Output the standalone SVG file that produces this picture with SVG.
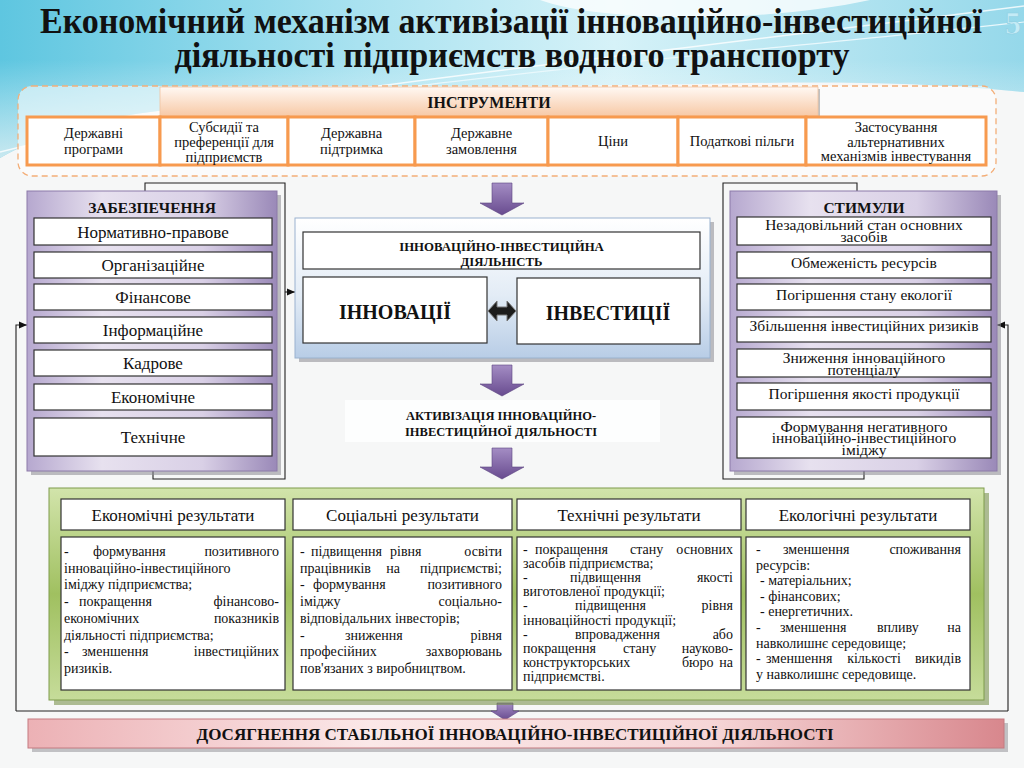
<svg xmlns="http://www.w3.org/2000/svg" width="1024" height="768" viewBox="0 0 1024 768">
<defs>
<linearGradient id="sky" x1="0" y1="0" x2="1" y2="0">
<stop offset="0" stop-color="#5ec6e0"/><stop offset="0.35" stop-color="#a9e2f0"/><stop offset="0.6" stop-color="#d6f2f8"/><stop offset="1" stop-color="#95d8ea"/>
</linearGradient>
<linearGradient id="skyfade" x1="0" y1="0" x2="0" y2="1">
<stop offset="0" stop-color="#ffffff" stop-opacity="0"/><stop offset="1" stop-color="#f6f7f7" stop-opacity="0.7"/>
</linearGradient>
<linearGradient id="hdr" x1="0" y1="0" x2="0" y2="1">
<stop offset="0" stop-color="#fff8f3"/><stop offset="1" stop-color="#f7c9a6"/>
</linearGradient>
<linearGradient id="purp" x1="0" y1="0" x2="1" y2="0">
<stop offset="0" stop-color="#b6a8cf"/><stop offset="0.3" stop-color="#e7e1ef"/><stop offset="0.7" stop-color="#d9d0e6"/><stop offset="1" stop-color="#9a89b8"/>
</linearGradient>
<linearGradient id="blue" x1="0" y1="0" x2="0" y2="1">
<stop offset="0" stop-color="#ffffff"/><stop offset="0.55" stop-color="#e3ecf6"/><stop offset="1" stop-color="#b8cde6"/>
</linearGradient>
<linearGradient id="green" x1="0" y1="0" x2="0" y2="1">
<stop offset="0" stop-color="#d2e4ab"/><stop offset="0.5" stop-color="#a0c060"/><stop offset="1" stop-color="#c6dc9a"/>
</linearGradient>
<linearGradient id="pink" x1="0" y1="0" x2="1" y2="0">
<stop offset="0" stop-color="#ecb1b5"/><stop offset="0.35" stop-color="#fbe8e8"/><stop offset="0.7" stop-color="#f6d6d7"/><stop offset="1" stop-color="#d8878d"/>
</linearGradient>
<linearGradient id="parr" x1="0" y1="0" x2="0" y2="1">
<stop offset="0" stop-color="#a48dc4"/><stop offset="1" stop-color="#684b8f"/>
</linearGradient>
<marker id="ah" viewBox="0 0 10 10" refX="10" refY="5" markerWidth="9" markerHeight="8" markerUnits="userSpaceOnUse" orient="auto">
<path d="M0,0.5 L10,5 L0,9.5 Z" fill="#111"/>
</marker>
<style>
text{font-family:"Liberation Serif","DejaVu Serif","Times New Roman",serif;fill:#111}
.t{font-size:14.5px;text-anchor:middle}
.b{font-weight:bold}
.m{text-anchor:middle}
.r{text-anchor:end}
.i17{font-size:17px;text-anchor:middle}
.i15{font-size:15.5px;text-anchor:middle}
.bx{fill:#fff;stroke:#333;stroke-width:1.2}
.cell{fill:#fff;stroke:#f79a4f;stroke-width:3}
.rt{font-size:14px}
.rh{font-size:17px;text-anchor:middle}
.ln{fill:none;stroke:#222;stroke-width:1.1}
.arr{fill:url(#parr);stroke:#5d4582;stroke-width:0.6}
.sh{fill:#8b8b92;opacity:0.55}
</style>
</defs>

<!-- background -->
<rect width="1024" height="768" fill="#f6f7f7"/>
<path d="M0,0 H1024 V92 C 900,80 800,82 700,84 C 500,86 300,92 150,112 C 90,120 40,135 0,158 Z" fill="url(#sky)"/>
<path d="M0,60 H1024 V92 C 900,80 800,82 700,84 C 500,86 300,92 150,112 C 90,120 40,135 0,158 Z" fill="url(#skyfade)"/>
<path d="M540,0 C 600,22 760,24 870,0 Z" fill="#ffffff" opacity="0.75"/>
<path d="M0,152 C 200,100 500,72 1024,6" fill="none" stroke="#ffffff" stroke-width="1.5" opacity="0.8"/>
<path d="M40,150 C 300,85 700,58 1024,22" fill="none" stroke="#e9f8fc" stroke-width="1.2"/>

<!-- title -->
<g id="title">
<text x="511" y="33" class="m b" font-size="35" textLength="942" lengthAdjust="spacingAndGlyphs">Економічний механізм активізації інноваційно-інвестиційної</text>
<text x="512" y="67" class="m b" font-size="35" textLength="675" lengthAdjust="spacingAndGlyphs">діяльності підприємств водного транспорту</text>
<text x="1013" y="34" class="m b" font-size="32" style="fill:#c4ebf6;stroke:#8fd0e3;stroke-width:0.6">5</text>
</g>

<!-- connectors -->
<g id="connectors">
<path class="ln" d="M145,191 V183 H285 V479 H153 V471"/>
<path class="ln" d="M285,292 H295" marker-end="url(#ah)"/>
<path class="ln" d="M857,191 V183 H723 V479 H864 V471"/>
<path class="ln" d="M16,711 H1008"/>
<path class="ln" d="M16,711 V325 H27" marker-end="url(#ah)"/>
<path class="ln" d="M1008,711 V325 H997" marker-end="url(#ah)"/>
<path class="arr" d="M492,183 H512 V203 H524 L502,215 L480,203 H492 Z"/>
<path class="arr" d="M492,365 H512 V384 H524 L502,396 L480,384 H492 Z"/>
<path class="arr" d="M492,448 H512 V467 H524 L502,479 L480,467 H492 Z"/>
<path class="arr" d="M497,703 H513 V711 H519 L505,720 L491,711 H497 Z"/>
</g>

<!-- instruments -->
<g id="instruments">
<rect x="18" y="86" width="978" height="90" rx="14" fill="#ffffff" fill-opacity="0.55" stroke="#f3ae78" stroke-width="1.3" stroke-dasharray="6,4"/>
<rect x="162" y="89" width="658" height="29" fill="#9a9a9a" opacity="0.6"/>
<rect x="160" y="87" width="658" height="29" fill="url(#hdr)" stroke="#f0c3a0" stroke-width="0.8"/>
<text x="489" y="108" class="m b" font-size="16">ІНСТРУМЕНТИ</text>
</g>
<g id="inst-1"><rect class="cell" x="27" y="117" width="133" height="48"/><text class="t" x="93.5" y="138">Державні</text><text class="t" x="93.5" y="154">програми</text></g>
<g id="inst-2"><rect class="cell" x="160" y="117" width="128" height="48"/><text class="t" x="224" y="132">Субсидії та</text><text class="t" x="224" y="147">преференції для</text><text class="t" x="224" y="161.5">підприємств</text></g>
<g id="inst-3"><rect class="cell" x="288" y="117" width="127" height="48"/><text class="t" x="351.5" y="138">Державна</text><text class="t" x="351.5" y="154">підтримка</text></g>
<g id="inst-4"><rect class="cell" x="415" y="117" width="133" height="48"/><text class="t" x="481.5" y="138">Державне</text><text class="t" x="481.5" y="154">замовлення</text></g>
<g id="inst-5"><rect class="cell" x="548" y="117" width="130" height="48"/><text class="t" x="613" y="146">Ціни</text></g>
<g id="inst-6"><rect class="cell" x="678" y="117" width="128" height="48"/><text class="t" x="742" y="146">Податкові пільги</text></g>
<g id="inst-7"><rect class="cell" x="806" y="117" width="180" height="48"/><text class="t" x="896" y="132">Застосування</text><text class="t" x="896" y="146.5">альтернативних</text><text class="t" x="896" y="161">механізмів інвестування</text></g>

<!-- left panel -->
<g id="zabezpechennia">
<rect class="sh" x="31" y="195" width="250" height="280"/>
<rect x="27" y="191" width="250" height="280" fill="url(#purp)" stroke="#8c7aa9" stroke-width="1"/>
<text x="152" y="212.5" class="m b" font-size="15.5">ЗАБЕЗПЕЧЕННЯ</text>
<rect class="bx" x="34" y="218" width="238" height="27"/><text class="i17" x="153" y="237.5">Нормативно-правове</text>
<rect class="bx" x="34" y="252" width="238" height="26"/><text class="i17" x="153" y="271">Організаційне</text>
<rect class="bx" x="34" y="284" width="238" height="26"/><text class="i17" x="153" y="303">Фінансове</text>
<rect class="bx" x="34" y="317" width="238" height="26"/><text class="i17" x="153" y="336">Інформаційне</text>
<rect class="bx" x="34" y="350" width="238" height="26"/><text class="i17" x="153" y="369">Кадрове</text>
<rect class="bx" x="34" y="384" width="238" height="26"/><text class="i17" x="153" y="403">Економічне</text>
<rect class="bx" x="34" y="418" width="238" height="38"/><text class="i17" x="153" y="443">Технічне</text>
</g>

<!-- center -->
<g id="activity">
<rect class="sh" x="299" y="222" width="415" height="140"/>
<rect x="295" y="218" width="415" height="140" fill="url(#blue)" stroke="#9ab2cf" stroke-width="1"/>
<rect class="bx" x="303" y="232" width="397" height="37"/>
<text x="501.5" y="250.5" class="m b" font-size="12.8">ІННОВАЦІЙНО-ІНВЕСТИЦІЙНА</text>
<text x="501.5" y="266" class="m b" font-size="12.8">ДІЯЛЬНІСТЬ</text>
</g>
<g id="innovations"><rect class="bx" x="303" y="277" width="184" height="66"/><text x="395" y="319" class="m b" font-size="20">ІННОВАЦІЇ</text></g>
<g id="investments"><rect class="bx" x="517" y="278" width="183" height="66"/><text x="608" y="320" class="m b" font-size="20">ІНВЕСТИЦІЇ</text></g>
<g id="double-arrow"><path d="M488,311 L497,301 V307 H507 V301 L516,311 L507,321 V315 H497 V321 Z" fill="#1c1c1c" stroke="#777" stroke-width="1"/></g>
<g id="activation">
<rect x="345" y="400" width="315" height="42" fill="#ffffff" opacity="0.8"/>
<text x="501" y="419.5" class="m b" font-size="12.5">АКТИВІЗАЦІЯ ІННОВАЦІЙНО-</text>
<text x="501" y="435.5" class="m b" font-size="12.5">ІНВЕСТИЦІЙНОЇ ДІЯЛЬНОСТІ</text>
</g>

<!-- right panel -->
<g id="stymuly">
<rect class="sh" x="734" y="195" width="267" height="280"/>
<rect x="730" y="191" width="267" height="280" fill="url(#purp)" stroke="#8c7aa9" stroke-width="1"/>
<text x="864" y="212.5" class="m b" font-size="15.5">СТИМУЛИ</text>
<rect class="bx" x="737" y="217" width="254" height="28"/><text class="i15" x="864" y="230">Незадовільний стан основних</text><text class="i15" x="864" y="242">засобів</text>
<rect class="bx" x="737" y="252" width="254" height="26"/><text class="i15" x="864" y="267.5">Обмеженість ресурсів</text>
<rect class="bx" x="737" y="284" width="254" height="26"/><text class="i15" x="864" y="299.5">Погіршення стану екології</text>
<rect class="bx" x="737" y="317" width="254" height="25"/><text class="i15" x="864" y="330.5">Збільшення інвестиційних ризиків</text>
<rect class="bx" x="737" y="349" width="254" height="28"/><text class="i15" x="864" y="362.5">Зниження інноваційного</text><text class="i15" x="864" y="374.5">потенціалу</text>
<rect class="bx" x="737" y="383" width="254" height="27"/><text class="i15" x="864" y="398.5">Погіршення якості продукції</text>
<rect class="bx" x="737" y="417" width="254" height="41"/><text class="i15" x="864" y="431.5">Формування негативного</text><text class="i15" x="864" y="443">інноваційно-інвестиційного</text><text class="i15" x="864" y="454.5">іміджу</text>
</g>

<!-- results -->
<g id="results">
<rect x="54" y="493" width="935" height="212" fill="#6f8a40" opacity="0.55"/>
<rect x="49" y="488" width="935" height="212" fill="url(#green)" stroke="#7f9c4d" stroke-width="1"/>
</g>
<g id="res-economic">
<rect class="bx" x="61" y="499" width="224" height="31"/><text class="rh" x="173" y="521">Економічні результати</text>
<rect class="bx" x="61" y="537" width="224" height="153"/>
<text class="rt" y="556"><tspan x="64">-</tspan><tspan x="93">формування</tspan></text><text class="rt r" x="279" y="556">позитивного</text>
<text class="rt" x="64" y="572.7">інноваційно-інвестиційного</text>
<text class="rt" x="64" y="589.4">іміджу підприємства;</text>
<text class="rt" y="606.1"><tspan x="64">-</tspan><tspan x="79">покращення</tspan></text><text class="rt r" x="279" y="606.1">фінансово-</text>
<text class="rt" x="64" y="622.8">економічних</text><text class="rt r" x="279" y="622.8">показників</text>
<text class="rt" x="64" y="639.5">діяльності підприємства;</text>
<text class="rt" y="656.2"><tspan x="64">-</tspan><tspan x="82">зменшення</tspan></text><text class="rt r" x="279" y="656.2">інвестиційних</text>
<text class="rt" x="64" y="672.9">ризиків.</text>
</g>
<g id="res-social">
<rect class="bx" x="293" y="499" width="219" height="31"/><text class="rh" x="402.5" y="521">Соціальні результати</text>
<rect class="bx" x="293" y="537" width="219" height="153"/>
<text class="rt" y="556"><tspan x="300">-</tspan><tspan x="311">підвищення</tspan><tspan x="390">рівня</tspan></text><text class="rt r" x="502" y="556">освіти</text>
<text class="rt" y="572.7"><tspan x="300">працівників</tspan></text><text class="rt m" x="393" y="572.7">на</text><text class="rt r" x="502" y="572.7">підприємстві;</text>
<text class="rt" y="589.4"><tspan x="300">-</tspan><tspan x="313">формування</tspan></text><text class="rt r" x="502" y="589.4">позитивного</text>
<text class="rt" x="300" y="606.1">іміджу</text><text class="rt r" x="502" y="606.1">соціально-</text>
<text class="rt" x="300" y="622.8">відповідальних інвесторів;</text>
<text class="rt" y="639.5"><tspan x="300">-</tspan><tspan x="345">зниження</tspan></text><text class="rt r" x="502" y="639.5">рівня</text>
<text class="rt" x="300" y="656.2">професійних</text><text class="rt r" x="502" y="656.2">захворювань</text>
<text class="rt" x="300" y="672.9">пов'язаних з виробництвом.</text>
</g>
<g id="res-technical">
<rect class="bx" x="517" y="499" width="224" height="31"/><text class="rh" x="629" y="521">Технічні результати</text>
<rect class="bx" x="517" y="537" width="224" height="153"/>
<text class="rt" y="554"><tspan x="523">-</tspan><tspan x="535">покращення</tspan><tspan x="630">стану</tspan></text><text class="rt r" x="733" y="554">основних</text>
<text class="rt" x="523" y="568.1">засобів підприємства;</text>
<text class="rt" y="582.2"><tspan x="523">-</tspan><tspan x="570">підвищення</tspan></text><text class="rt r" x="733" y="582.2">якості</text>
<text class="rt" x="523" y="596.3">виготовленої продукції;</text>
<text class="rt" y="610.4"><tspan x="523">-</tspan><tspan x="575">підвищення</tspan></text><text class="rt r" x="733" y="610.4">рівня</text>
<text class="rt" x="523" y="624.5">інноваційності продукції;</text>
<text class="rt" y="638.6"><tspan x="523">-</tspan><tspan x="575">впровадження</tspan></text><text class="rt r" x="733" y="638.6">або</text>
<text class="rt" y="652.7"><tspan x="523">покращення</tspan><tspan x="623">стану</tspan></text><text class="rt r" x="733" y="652.7">науково-</text>
<text class="rt" y="666.8"><tspan x="523">конструкторських</tspan><tspan x="682">бюро</tspan></text><text class="rt r" x="733" y="666.8">на</text>
<text class="rt" x="523" y="680.9">підприємстві.</text>
</g>
<g id="res-ecological">
<rect class="bx" x="746" y="499" width="224" height="31"/><text class="rh" x="858" y="521">Екологічні результати</text>
<rect class="bx" x="746" y="537" width="224" height="153"/>
<text class="rt" y="554"><tspan x="756">-</tspan><tspan x="783">зменшення</tspan></text><text class="rt r" x="961" y="554">споживання</text>
<text class="rt" x="756" y="569.6">ресурсів:</text>
<text class="rt" x="760" y="585.2">- матеріальних;</text>
<text class="rt" x="760" y="600.8">- фінансових;</text>
<text class="rt" x="760" y="616.4">- енергетичних.</text>
<text class="rt" y="632"><tspan x="756">-</tspan><tspan x="780">зменшення</tspan><tspan x="877">впливу</tspan></text><text class="rt r" x="961" y="632">на</text>
<text class="rt" x="756" y="647.6">навколишнє середовище;</text>
<text class="rt" y="663.2"><tspan x="756">-</tspan><tspan x="766">зменшення</tspan></text><text class="rt m" x="874" y="663.2">кількості</text><text class="rt r" x="961" y="663.2">викидів</text>
<text class="rt" x="756" y="678.8">у навколишнє середовище.</text>
</g>

<!-- final -->
<g id="stable-activity">
<rect x="32" y="723" width="976" height="29" fill="#8b8b92" opacity="0.5"/>
<rect x="28" y="719" width="976" height="29" fill="url(#pink)" stroke="#c47a80" stroke-width="1"/>
<text x="515" y="740" class="m b" font-size="16" textLength="637" lengthAdjust="spacingAndGlyphs">ДОСЯГНЕННЯ СТАБІЛЬНОЇ ІННОВАЦІЙНО-ІНВЕСТИЦІЙНОЇ ДІЯЛЬНОСТІ</text>
</g>
</svg>
